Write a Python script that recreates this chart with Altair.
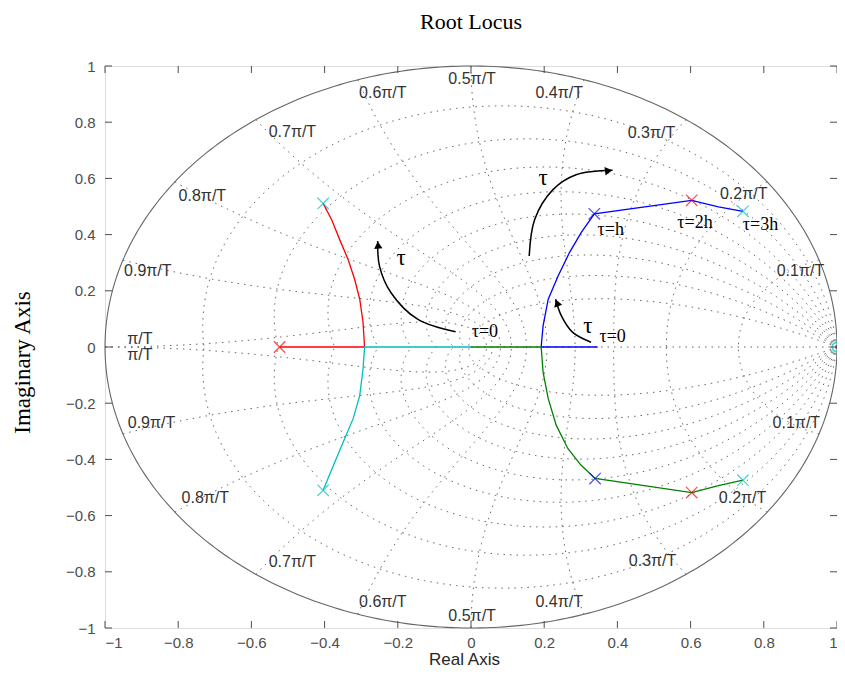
import numpy as np
import pandas as pd
import altair as alt

# ---------------- data ----------------
tick_vals = [-1, -0.8, -0.6, -0.4, -0.2, 0, 0.2, 0.4, 0.6, 0.8, 1]

# z-grid parameters (damping ratios and natural frequencies in units of pi/T)
grid_zeta = [0.1, 0.2, 0.3, 0.4, 0.5, 0.6, 0.7, 0.8, 0.9]
grid_wn = [0.1, 0.2, 0.3, 0.4, 0.5, 0.6, 0.7, 0.8, 0.9, 1.0]

# grid labels
grid_lab_text = ["0.5π/T", "0.4π/T", "0.6π/T", "0.3π/T", "0.7π/T", "0.2π/T", "0.8π/T",
                 "0.1π/T", "0.9π/T", "π/T",
                 "0.5π/T", "0.4π/T", "0.6π/T", "0.3π/T", "0.7π/T", "0.2π/T", "0.8π/T",
                 "0.1π/T", "0.9π/T", "π/T"]
grid_lab_x = [0.003, 0.241, -0.241, 0.493, -0.488, 0.745, -0.734, 0.900, -0.883, -0.905,
              0.003, 0.241, -0.241, 0.496, -0.488, 0.742, -0.726, 0.889, -0.873, -0.905]
grid_lab_y = [0.954, 0.904, 0.904, 0.762, 0.766, 0.543, 0.539, 0.270, 0.270, 0.028,
              -0.957, -0.908, -0.908, -0.762, -0.766, -0.539, -0.539, -0.270, -0.270, -0.028]

# root-locus branches
red_x = [-0.523, -0.291, -0.291, -0.295, -0.304, -0.318, -0.336, -0.359, -0.381, -0.404]
red_y = [0.0, 0.0, 0.005, 0.088, 0.170, 0.241, 0.312, 0.383, 0.454, 0.511]
cyan_x = [0.0, -0.291, -0.291, -0.295, -0.304, -0.322, -0.345, -0.372, -0.404]
cyan_y = [0.0, 0.0, -0.005, -0.078, -0.173, -0.255, -0.326, -0.409, -0.510]
blue_x = [0.346, 0.192, 0.192, 0.197, 0.211, 0.238, 0.269, 0.301, 0.337, 0.603, 0.676, 0.743]
blue_y = [0.0, 0.0, 0.005, 0.076, 0.170, 0.253, 0.336, 0.407, 0.474, 0.522, 0.499, 0.483]
green_x = [0.0, 0.192, 0.192, 0.197, 0.211, 0.233, 0.265, 0.301, 0.339, 0.603, 0.676, 0.743]
green_y = [0.0, 0.0, -0.005, -0.090, -0.184, -0.279, -0.362, -0.421, -0.468, -0.518, -0.493, -0.474]

# x markers
mark_x = [-0.523, 0.603, 0.603, -0.404, -0.404, 0.743, 0.743, 0.337, 0.339]
mark_y = [0.0, 0.522, -0.518, 0.511, -0.510, 0.483, -0.474, 0.474, -0.468]
mark_c = ["red", "red", "red", "cyan", "cyan", "cyan", "cyan", "blue", "blue"]

# o marker
circ_x = [1.0]
circ_y = [0.0]

# curved arrows
arrA_x = [-0.042, -0.146, -0.219, -0.250, -0.255]
arrA_y = [0.054, 0.099, 0.194, 0.288, 0.377]
arrB_x = [0.159, 0.174, 0.224, 0.287, 0.387]
arrB_y = [0.324, 0.454, 0.560, 0.613, 0.629]
arrC_x = [0.328, 0.278, 0.247, 0.231]
arrC_y = [0.017, 0.052, 0.111, 0.170]
head_x = [-0.254, 0.376, 0.235]
head_y = [0.363, 0.627, 0.157]
head_angle = [356, 83, 340]

# tau annotations
tau_big_text = ["τ", "τ", "τ"]
tau_big_x = [-0.191, 0.197, 0.319]
tau_big_y = [0.318, 0.602, 0.076]
tau_small_text = ["τ=0", "τ=0", "τ=h", "τ=2h", "τ=3h"]
tau_small_x = [0.038, 0.387, 0.382, 0.612, 0.791]
tau_small_y = [0.053, 0.034, 0.418, 0.443, 0.434]

# ---------------- build tables ----------------
W, H = 732, 562
xs = alt.Scale(domain=[-1, 1], nice=False, zero=False)
ys = alt.Scale(domain=[-1, 1], nice=False, zero=False)

rows = []
cid = 0
th = np.linspace(0, np.pi, 240)
for z in grid_zeta:
    r = np.exp(-z / np.sqrt(1 - z * z) * th)
    for s in (1, -1):
        for i, (a, b) in enumerate(zip(r * np.cos(th), s * r * np.sin(th))):
            rows.append((cid, i, a, b))
        cid += 1
zz = np.linspace(0, 1, 120)
for w in grid_wn:
    wn = w * np.pi
    r = np.exp(-zz * wn)
    ang = wn * np.sqrt(1 - zz * zz)
    for s in (1, -1):
        for i, (a, b) in enumerate(zip(r * np.cos(ang), s * r * np.sin(ang))):
            rows.append((cid, i, a, b))
        cid += 1
rows.append((cid, 0, 0.0, 0.0))
rows.append((cid, 1, 1.0, 0.0))
grid_df = pd.DataFrame(rows, columns=["c", "i", "x", "y"])

phi = np.linspace(0, 2 * np.pi, 400)
circle_df = pd.DataFrame({"i": np.arange(len(phi)), "x": np.cos(phi), "y": np.sin(phi)})

loci = []
for name, lx, ly in [("red", red_x, red_y), ("cyan", cyan_x, cyan_y),
                     ("blue", blue_x, blue_y), ("green", green_x, green_y)]:
    for i, (a, b) in enumerate(zip(lx, ly)):
        loci.append((name, i, a, b))
loci_df = pd.DataFrame(loci, columns=["s", "i", "x", "y"])

col_dom = ["red", "cyan", "blue", "green"]
col_rng = ["#ff0000", "#00bfbf", "#0000ff", "#008000"]
cscale = alt.Scale(domain=col_dom, range=col_rng)

mark_df = pd.DataFrame({"x": mark_x, "y": mark_y, "s": mark_c})
circ_df = pd.DataFrame({"x": circ_x, "y": circ_y})

arr = []
for k, (ax_, ay_) in enumerate([(arrA_x, arrA_y), (arrB_x, arrB_y), (arrC_x, arrC_y)]):
    for i, (a, b) in enumerate(zip(ax_, ay_)):
        arr.append((k, i, a, b))
arr_df = pd.DataFrame(arr, columns=["k", "i", "x", "y"])
head_df = pd.DataFrame({"x": head_x, "y": head_y, "ang": head_angle})

glab_df = pd.DataFrame({"x": grid_lab_x, "y": grid_lab_y, "t": grid_lab_text})
tbig_df = pd.DataFrame({"x": tau_big_x, "y": tau_big_y, "t": tau_big_text})
tsmall_df = pd.DataFrame({"x": tau_small_x, "y": tau_small_y, "t": tau_small_text})
tick_df = pd.DataFrame({"x": tick_vals, "y": tick_vals})

xaxis = alt.Axis(values=tick_vals, format="~g", grid=False, tickSize=0, domain=False,
                 labelFont="Liberation Sans", labelFontSize=15, labelColor="#4d4d4d",
                 labelPadding=7, titleFont="Liberation Sans", titleFontSize=17,
                 titleFontWeight="normal", titleColor="#262626",
                 titleX=359, titleY=31, titleBaseline="middle", titleAlign="center")
yaxis = alt.Axis(values=tick_vals, format="~g", grid=False, tickSize=0, domain=False,
                 labelFont="Liberation Sans", labelFontSize=15, labelColor="#4d4d4d",
                 labelPadding=10, titleFont="Liberation Serif", titleFontSize=23,
                 titleFontWeight="normal", titleColor="#000000",
                 titleX=-83, titleY=296, titleAngle=-90,
                 titleBaseline="middle", titleAlign="center")


def X():
    return alt.X("x:Q", scale=xs, title="Real Axis", axis=xaxis)


def Y():
    return alt.Y("y:Q", scale=ys, title="Imaginary Axis", axis=yaxis)


grid = alt.Chart(grid_df).mark_line(strokeDash=[1.5, 5], color="#555555", strokeWidth=0.9).encode(
    x=X(), y=Y(), detail="c:N", order="i:Q")
circ = alt.Chart(circle_df).mark_line(color="#666666", strokeWidth=1.1).encode(
    x=X(), y=Y(), order="i:Q")
loc = alt.Chart(loci_df).mark_line(strokeWidth=1.3).encode(
    x=X(), y=Y(), color=alt.Color("s:N", scale=cscale, legend=None), detail="s:N", order="i:Q")
xm = alt.Chart(mark_df).mark_point(shape="M-1,-1L1,1M-1,1L1,-1", size=130, filled=False,
                                   strokeWidth=1.2).encode(
    x=X(), y=Y(), color=alt.Color("s:N", scale=cscale, legend=None))
om = alt.Chart(circ_df).mark_point(shape="circle", size=90, filled=False, strokeWidth=1.8,
                                   color="#00bfbf").encode(x=X(), y=Y())
arrows = alt.Chart(arr_df).mark_line(color="black", strokeWidth=1.5, interpolate="catmull-rom").encode(
    x=X(), y=Y(), detail="k:N", order="i:Q")
heads = alt.Chart(head_df).mark_point(shape="triangle-up", size=70, filled=True, color="black",
                                      opacity=1).encode(x=X(), y=Y(), angle=alt.Angle("ang:Q", scale=None))
glab = alt.Chart(glab_df).mark_text(font="Liberation Sans", fontSize=16, color="#333333",
                                    align="center", baseline="middle").encode(x=X(), y=Y(), text="t:N")
tbig = alt.Chart(tbig_df).mark_text(font="Liberation Serif", fontSize=23, color="black",
                                    align="center", baseline="middle").encode(x=X(), y=Y(), text="t:N")
tsmall = alt.Chart(tsmall_df).mark_text(font="Liberation Serif", fontSize=18, color="black",
                                        align="center", baseline="middle").encode(x=X(), y=Y(), text="t:N")

tick_col = "#4d4d4d"
tb = alt.Chart(tick_df).mark_rule(color=tick_col).encode(x=X(), y=alt.value(H), y2=alt.value(H - 7))
tt = alt.Chart(tick_df).mark_rule(color=tick_col).encode(x=X(), y=alt.value(0), y2=alt.value(7))
tl = alt.Chart(tick_df).mark_rule(color=tick_col).encode(y=Y(), x=alt.value(0), x2=alt.value(7))
tr = alt.Chart(tick_df).mark_rule(color=tick_col).encode(y=Y(), x=alt.value(W - 7), x2=alt.value(W))

chart = alt.layer(grid, circ, loc, arrows, heads, xm, om, glab, tbig, tsmall,
                  tb, tt, tl, tr).properties(
    width=W, height=H,
    title=alt.TitleParams("Root Locus", font="Liberation Serif", fontSize=22, fontWeight="normal",
                          color="black", anchor="middle", offset=25),
    padding={"left": 97, "top": 58, "right": 0, "bottom": 40},
    autosize=alt.AutoSizeParams(type="none"),
).configure_view(stroke="#4d4d4d", strokeWidth=1).configure(background="white")

chart.save("out.html", embed_options={"renderer": "svg", "actions": False})
